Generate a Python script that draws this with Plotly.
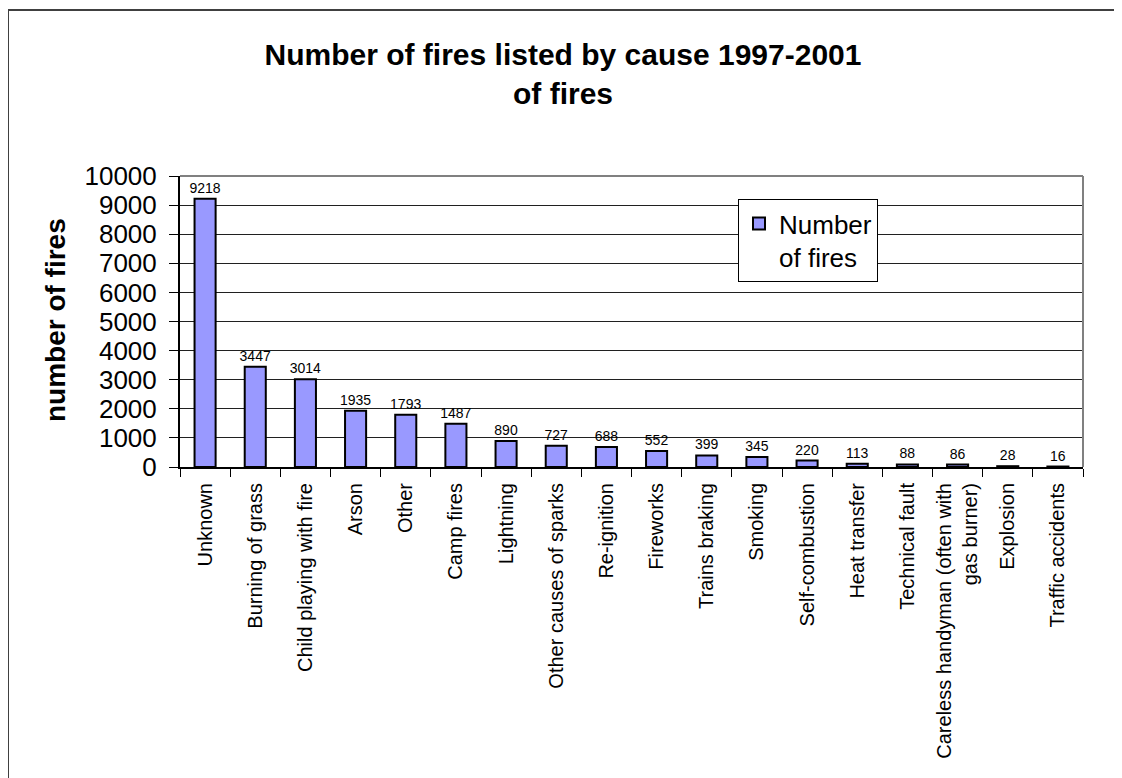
import plotly.graph_objects as go

categories = [
    "Unknown", "Burning of grass", "Child playing with fire", "Arson", "Other",
    "Camp fires", "Lightning", "Other causes of sparks", "Re-ignition", "Fireworks",
    "Trains braking", "Smoking", "Self-combustion", "Heat transfer", "Technical fault",
    "Careless handyman (often with<br>gas burner)", "Explosion", "Traffic accidents",
]
values = [9218, 3447, 3014, 1935, 1793, 1487, 890, 727, 688, 552, 399, 345, 220, 113, 88, 86, 28, 16]
y_ticks = [0, 1000, 2000, 3000, 4000, 5000, 6000, 7000, 8000, 9000, 10000]
y_tick_labels = [str(v) for v in y_ticks]

FONT = "Liberation Sans, Arial, sans-serif"
OFF = 8  # page body margin
W, H = 1122 - OFF, 778 - OFF
L, R, T, B = 180 - OFF, 1083 - OFF, 176 - OFF, 467 - OFF

def px(x):
    return (x - OFF - L) / (R - L)

def py(y):
    return (B - (y - OFF)) / (B - T)

fig = go.Figure()
fig.add_trace(go.Bar(
    x=categories, y=values, name="Number<br>of fires",
    marker=dict(color="#9999FF", line=dict(color="black", width=2)),
    text=[str(v) for v in values], textposition="outside",
    textfont=dict(size=14, color="black", family=FONT),
    constraintext="none",
    cliponaxis=False,
))

fig.update_layout(
    width=W, height=H,
    margin=dict(l=L, r=W - R, t=T, b=H - B, autoexpand=False),
    paper_bgcolor="white", plot_bgcolor="white",
    font=dict(family=FONT, color="black"),
    bargap=0.58,
    showlegend=True,
    title=dict(
        text="<b>Number of fires listed by cause 1997-2001</b><br><b>of fires</b>",
        x=(563 - OFF) / W, xanchor="center", xref="container",
        y=1 - (75 - OFF - 10) / H, yanchor="middle", yref="container",
        font=dict(size=30, family=FONT, color="black"),
    ),
    legend=dict(
        x=px(738), y=py(199), xanchor="left", yanchor="top",
        bgcolor="white", bordercolor="black", borderwidth=1,
        font=dict(size=26, family=FONT, color="black"),
        valign="top", tracegroupgap=0,
    ),
    xaxis=dict(
        type="category", tickangle=-90, tickson="boundaries",
        ticks="outside", ticklen=8, tickcolor="black",
        showline=True, linecolor="black", linewidth=2,
        tickfont=dict(size=20, family=FONT, color="black"),
        ticklabelstandoff=6,
        automargin=False,
    ),
    yaxis=dict(
        range=[0, 10000], tickvals=y_ticks, ticktext=y_tick_labels,
        ticks="outside", ticklen=9, tickcolor="black",
        showline=True, linecolor="black", linewidth=2,
        showgrid=True, gridcolor="#202020", gridwidth=1,
        tickfont=dict(size=26, family=FONT, color="black"),
        ticklabelstandoff=7,
        automargin=False, zeroline=False,
    ),
    annotations=[dict(
        text="<b>number of fires</b>", textangle=-90,
        xref="paper", yref="paper", x=px(55), y=0.505,
        xanchor="center", yanchor="middle", showarrow=False,
        font=dict(size=28, family=FONT, color="black"),
    )],
    shapes=[
        dict(type="line", xref="paper", yref="paper", x0=0, x1=1, y0=1, y1=1,
             line=dict(color="#808080", width=2)),
        dict(type="line", xref="paper", yref="paper", x0=1, x1=1, y0=0, y1=1,
             line=dict(color="#808080", width=2)),
        dict(type="rect", xref="paper", yref="paper",
             x0=px(8), x1=px(1140), y0=py(800), y1=py(10),
             line=dict(color="#404040", width=2), fillcolor="rgba(0,0,0,0)"),
    ],
)

fig.write_html("out.html")
